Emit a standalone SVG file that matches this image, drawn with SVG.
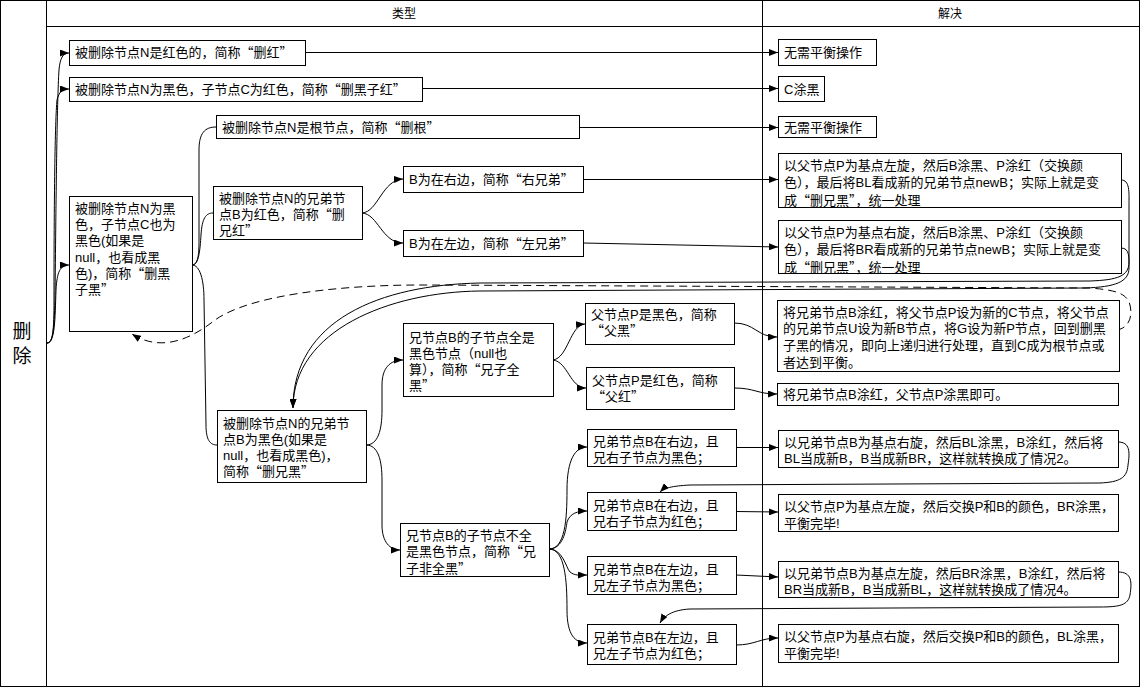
<svg xmlns="http://www.w3.org/2000/svg" width="1140" height="687" viewBox="0 0 1140 687">
<style>
.box{fill:#fff;stroke:#000;stroke-width:1}
.t{font-family:"Liberation Sans","Noto Sans CJK SC",sans-serif;font-size:13px;fill:#000}
.q{font-family:"Noto Sans CJK SC",sans-serif;font-feature-settings:"fwid" 1}
.h{font-family:"Liberation Sans","Noto Sans CJK SC",sans-serif;font-size:12px;fill:#000}
.big{font-family:"Liberation Sans","Noto Sans CJK SC",sans-serif;font-size:19px;fill:#000}
.c{fill:none;stroke:#000;stroke-width:1}
.frame{fill:none;stroke:#000;stroke-width:1}
</style>
<defs>
<marker id="arr" viewBox="0 0 9 7" refX="9" refY="3.5" markerWidth="9" markerHeight="7" markerUnits="userSpaceOnUse" orient="auto"><path d="M0,0 L9,3.5 L0,7 z" fill="#000"/></marker>
</defs>
<rect x="0" y="0" width="1140" height="687" fill="#fff"/>
<g id="frame">
<rect class="frame" x="0.5" y="0.5" width="1139" height="686"/>
<line class="frame" x1="46.5" y1="0" x2="46.5" y2="687"/>
<line class="frame" x1="46" y1="26.5" x2="1140" y2="26.5"/>
<line class="frame" x1="762.5" y1="0" x2="762.5" y2="687"/>
<text class="h" x="404" y="18" text-anchor="middle">类型</text>
<text class="h" x="950" y="18" text-anchor="middle">解决</text>
<text class="big" x="22" y="338" text-anchor="middle">删</text>
<text class="big" x="22" y="363" text-anchor="middle">除</text>
</g>
<g id="connectors">
<path class="c" marker-end="url(#arr)" d="M47,343 C53,343 54,330 55,300 C56,200 57,100 59,70 C60,58 63,53 69,53"/>
<path class="c" marker-end="url(#arr)" d="M47,343 C53,343 54,330 54,300 C54,200 55,120 57,100 C59,92 62,89 69,89"/>
<path class="c" marker-end="url(#arr)" d="M47,343 C55,343 55,320 56,290 C57,272 60,265 69,265"/>
<path class="c" marker-end="url(#arr)" d="M305,52.5 L778,52.5"/>
<path class="c" marker-end="url(#arr)" d="M422,88.5 L778,88.5"/>
<path class="c" marker-end="url(#arr)" d="M579,127.5 L778,127.5"/>
<path class="c" d="M192,265 C198,265 199,255 199,240 L199,150 C199,133 205,127 216,127"/>
<path class="c" d="M192,265 C199,265 200,250 201,235 C202,218 206,213 213,213"/>
<path class="c" d="M192,265 C200,265 204,280 204,300 L206,425 C206,440 210,445 217,445"/>
<path class="c" marker-end="url(#arr)" d="M362,213 C378,212 382,180 403,179"/>
<path class="c" marker-end="url(#arr)" d="M362,213 C378,214 382,243 403,243"/>
<path class="c" marker-end="url(#arr)" d="M583,179.5 L778,179.5"/>
<path class="c" marker-end="url(#arr)" d="M583,243 L778,247"/>
<path class="c" marker-end="url(#arr)" d="M1121,180 C1130,180 1129,192 1129,205 L1129,262 C1129,276 1118,280 1090,281 L480,283 C380,285 293,320 293,408"/>
<path class="c" marker-end="url(#arr)" d="M1121,248 C1130,248 1129,258 1129,268 C1129,282 1115,287 1085,288 L480,291 C390,292 293,330 293,408"/>
<path class="c" marker-end="url(#arr)" stroke-dasharray="8,5" d="M1117,330 C1128,328 1133,318 1130,305 C1127,293 1115,290 1090,288 L420,285 C340,285 250,295 215,320 C190,340 160,352 132,334"/>
<path class="c" marker-end="url(#arr)" d="M366,445 C378,445 382,430 382,410 L382,385 C382,368 390,360 403,360"/>
<path class="c" marker-end="url(#arr)" d="M366,445 C378,445 382,460 382,480 L382,525 C382,542 390,550 400,550"/>
<path class="c" marker-end="url(#arr)" d="M553,360 C568,358 570,325 585,324"/>
<path class="c" marker-end="url(#arr)" d="M553,360 C568,362 570,388 586,388"/>
<path class="c" marker-end="url(#arr)" d="M734,323 C755,323 757,337 777,337"/>
<path class="c" marker-end="url(#arr)" d="M734,388 C755,388 757,394 777,394"/>
<path class="c" marker-end="url(#arr)" d="M549,549 C565,549 567,520 567,490 C567,460 575,447 587,447"/>
<path class="c" marker-end="url(#arr)" d="M549,549 C563,549 566,530 567,522 C570,513 578,511 587,511"/>
<path class="c" marker-end="url(#arr)" d="M549,549 C563,549 566,568 570,572 C575,576 580,575 587,575"/>
<path class="c" marker-end="url(#arr)" d="M549,549 C565,549 567,580 567,610 C567,635 575,643 587,643"/>
<path class="c" marker-end="url(#arr)" d="M736,447.5 L778,447.5"/>
<path class="c" marker-end="url(#arr)" d="M736,511.5 L778,512"/>
<path class="c" marker-end="url(#arr)" d="M736,575 L778,577"/>
<path class="c" marker-end="url(#arr)" d="M736,645 C755,645 760,638 778,638"/>
<path class="c" marker-end="url(#arr)" d="M1118,442 C1130,442 1130,452 1128,465 C1127,478 1120,482 1100,483 L690,485 C672,486 664,488 660,492"/>
<path class="c" marker-end="url(#arr)" d="M1118,572 C1132,572 1132,582 1130,595 C1128,605 1120,607 1100,607 L690,609 C672,610 664,616 660,623"/>
</g>
<g id="n_delred"><rect class="box" x="69.5" y="40.5" width="236" height="25"/><text class="t" x="75" y="57">被删除节点N是红色的，简称<tspan class="q">“</tspan>删红<tspan class="q">”</tspan></text></g>
<g id="n_delblackred"><rect class="box" x="69.5" y="77.5" width="353" height="24"/><text class="t" x="75" y="94">被删除节点N为黑色，子节点C为红色，简称<tspan class="q">“</tspan>删黑子红<tspan class="q">”</tspan></text></g>
<g id="n_delroot"><rect class="box" x="216.5" y="115.5" width="363" height="23"/><text class="t" x="222" y="131.5">被删除节点N是根节点，简称<tspan class="q">“</tspan>删根<tspan class="q">”</tspan></text></g>
<g id="n_delbb"><rect class="box" x="69.5" y="196.5" width="123" height="135"/><text class="t" y="213"><tspan x="75">被删除节点N为黑</tspan><tspan x="75" dy="16.2">色，子节点C也为</tspan><tspan x="75" dy="16.2">黑色(如果是</tspan><tspan x="75" dy="16.2">null，也看成黑</tspan><tspan x="75" dy="16.2">色)，简称<tspan class="q">“</tspan>删黑</tspan><tspan x="75" dy="16.2">子黑<tspan class="q">”</tspan></tspan></text></g>
<g id="n_sibred"><rect class="box" x="213.5" y="186.5" width="149" height="53"/><text class="t" y="202.5"><tspan x="219">被删除节点N的兄弟节</tspan><tspan x="219" dy="16">点B为红色，简称<tspan class="q">“</tspan>删</tspan><tspan x="219" dy="16">兄红<tspan class="q">”</tspan></tspan></text></g>
<g id="n_rightsib"><rect class="box" x="403.5" y="166.5" width="180" height="26"/><text class="t" x="409" y="184">B为在右边，简称<tspan class="q">“</tspan>右兄弟<tspan class="q">”</tspan></text></g>
<g id="n_leftsib"><rect class="box" x="403.5" y="230.5" width="180" height="26"/><text class="t" x="409" y="248">B为在左边，简称<tspan class="q">“</tspan>左兄弟<tspan class="q">”</tspan></text></g>
<g id="r_rightsib"><rect class="box" x="778.5" y="153.5" width="343" height="54"/><text class="t" y="169.5"><tspan x="784">以父节点P为基点左旋，然后B涂黑、P涂红（交换颜</tspan><tspan x="784" dy="17.5">色），最后将BL看成新的兄弟节点newB；实际上就是变</tspan><tspan x="784" dy="17.5">成<tspan class="q">“</tspan>删兄黑<tspan class="q">”</tspan>，统一处理</tspan></text></g>
<g id="r_leftsib"><rect class="box" x="778.5" y="220.5" width="343" height="53"/><text class="t" y="236.5"><tspan x="784">以父节点P为基点右旋，然后B涂黑、P涂红（交换颜</tspan><tspan x="784" dy="17.5">色），最后将BR看成新的兄弟节点newB；实际上就是变</tspan><tspan x="784" dy="17.5">成<tspan class="q">“</tspan>删兄黑<tspan class="q">”</tspan>，统一处理</tspan></text></g>
<g id="r_delred"><rect class="box" x="778.5" y="39.5" width="98" height="26"/><text class="t" x="784" y="57">无需平衡操作</text></g>
<g id="r_delblackred"><rect class="box" x="778.5" y="76.5" width="46" height="25"/><text class="t" x="784" y="93.5">C涂黑</text></g>
<g id="r_delroot"><rect class="box" x="778.5" y="116.5" width="98" height="21"/><text class="t" x="784" y="131.5">无需平衡操作</text></g>
<g id="n_sibblack"><rect class="box" x="217.5" y="410.5" width="149" height="72"/><text class="t" y="427.5"><tspan x="223">被删除节点N的兄弟节</tspan><tspan x="223" dy="16">点B为黑色(如果是</tspan><tspan x="223" dy="16">null，也看成黑色)，</tspan><tspan x="223" dy="16">简称<tspan class="q">“</tspan>删兄黑<tspan class="q">”</tspan></tspan></text></g>
<g id="n_allblack"><rect class="box" x="403.5" y="323.5" width="150" height="73"/><text class="t" y="341.5"><tspan x="409">兄节点B的子节点全是</tspan><tspan x="409" dy="16">黑色节点（null也</tspan><tspan x="409" dy="16">算），简称<tspan class="q">“</tspan>兄子全</tspan><tspan x="409" dy="16">黑<tspan class="q">”</tspan></tspan></text></g>
<g id="n_pblack"><rect class="box" x="585.5" y="303.5" width="149" height="41"/><text class="t" y="318.5"><tspan x="591">父节点P是黑色，简称</tspan><tspan x="591" dy="16.5"><tspan class="q">“</tspan>父黑<tspan class="q">”</tspan></tspan></text></g>
<g id="n_pred"><rect class="box" x="586.5" y="367.5" width="148" height="42"/><text class="t" y="384.5"><tspan x="592">父节点P是红色，简称</tspan><tspan x="592" dy="16.5"><tspan class="q">“</tspan>父红<tspan class="q">”</tspan></tspan></text></g>
<g id="r_pblack"><rect class="box" x="777.5" y="300.5" width="342" height="71"/><text class="t" y="316.5"><tspan x="783">将兄弟节点B涂红，将父节点P设为新的C节点，将父节点</tspan><tspan x="783" dy="16.7">的兄弟节点U设为新B节点，将G设为新P节点，回到删黑</tspan><tspan x="783" dy="16.7">子黑的情况，即向上递归进行处理，直到C成为根节点或</tspan><tspan x="783" dy="16.7">者达到平衡。</tspan></text></g>
<g id="r_pred"><rect class="box" x="777.5" y="383.5" width="341" height="22"/><text class="t" x="783" y="399">将兄弟节点B涂红，父节点P涂黑即可。</text></g>
<g id="n_notallblack"><rect class="box" x="400.5" y="523.5" width="149" height="53"/><text class="t" y="539.5"><tspan x="406">兄节点B的子节点不全</tspan><tspan x="406" dy="16.5">是黑色节点，简称<tspan class="q">“</tspan>兄</tspan><tspan x="406" dy="16.5">子非全黑<tspan class="q">”</tspan></tspan></text></g>
<g id="n_l1"><rect class="box" x="587.5" y="429.5" width="149" height="37"/><text class="t" y="445.5"><tspan x="593">兄弟节点B在右边，且</tspan><tspan x="593" dy="16.5">兄右子节点为黑色；</tspan></text></g>
<g id="n_l2"><rect class="box" x="587.5" y="492.5" width="149" height="38"/><text class="t" y="509.5"><tspan x="593">兄弟节点B在右边，且</tspan><tspan x="593" dy="16.5">兄右子节点为红色；</tspan></text></g>
<g id="n_l3"><rect class="box" x="587.5" y="556.5" width="149" height="38"/><text class="t" y="573.5"><tspan x="593">兄弟节点B在左边，且</tspan><tspan x="593" dy="16.5">兄左子节点为黑色；</tspan></text></g>
<g id="n_l4"><rect class="box" x="587.5" y="624.5" width="149" height="40"/><text class="t" y="641.5"><tspan x="593">兄弟节点B在左边，且</tspan><tspan x="593" dy="16.5">兄左子节点为红色；</tspan></text></g>
<g id="r_l1"><rect class="box" x="778.5" y="430.5" width="340" height="37"/><text class="t" y="446.5"><tspan x="784">以兄弟节点B为基点右旋，然后BL涂黑，B涂红，然后将</tspan><tspan x="784" dy="16.5">BL当成新B，B当成新BR，这样就转换成了情况2。</tspan></text></g>
<g id="r_l2"><rect class="box" x="778.5" y="494.5" width="340" height="37"/><text class="t" y="511"><tspan x="784">以父节点P为基点左旋，然后交换P和B的颜色，BR涂黑，</tspan><tspan x="784" dy="16.5">平衡完毕!</tspan></text></g>
<g id="r_l3"><rect class="box" x="778.5" y="561.5" width="340" height="36"/><text class="t" y="577.5"><tspan x="784">以兄弟节点B为基点左旋，然后BR涂黑，B涂红，然后将</tspan><tspan x="784" dy="16.5">BR当成新B，B当成新BL，这样就转换成了情况4。</tspan></text></g>
<g id="r_l4"><rect class="box" x="778.5" y="624.5" width="340" height="38"/><text class="t" y="641"><tspan x="784">以父节点P为基点右旋，然后交换P和B的颜色，BL涂黑，</tspan><tspan x="784" dy="16.5">平衡完毕!</tspan></text></g>
</svg>
